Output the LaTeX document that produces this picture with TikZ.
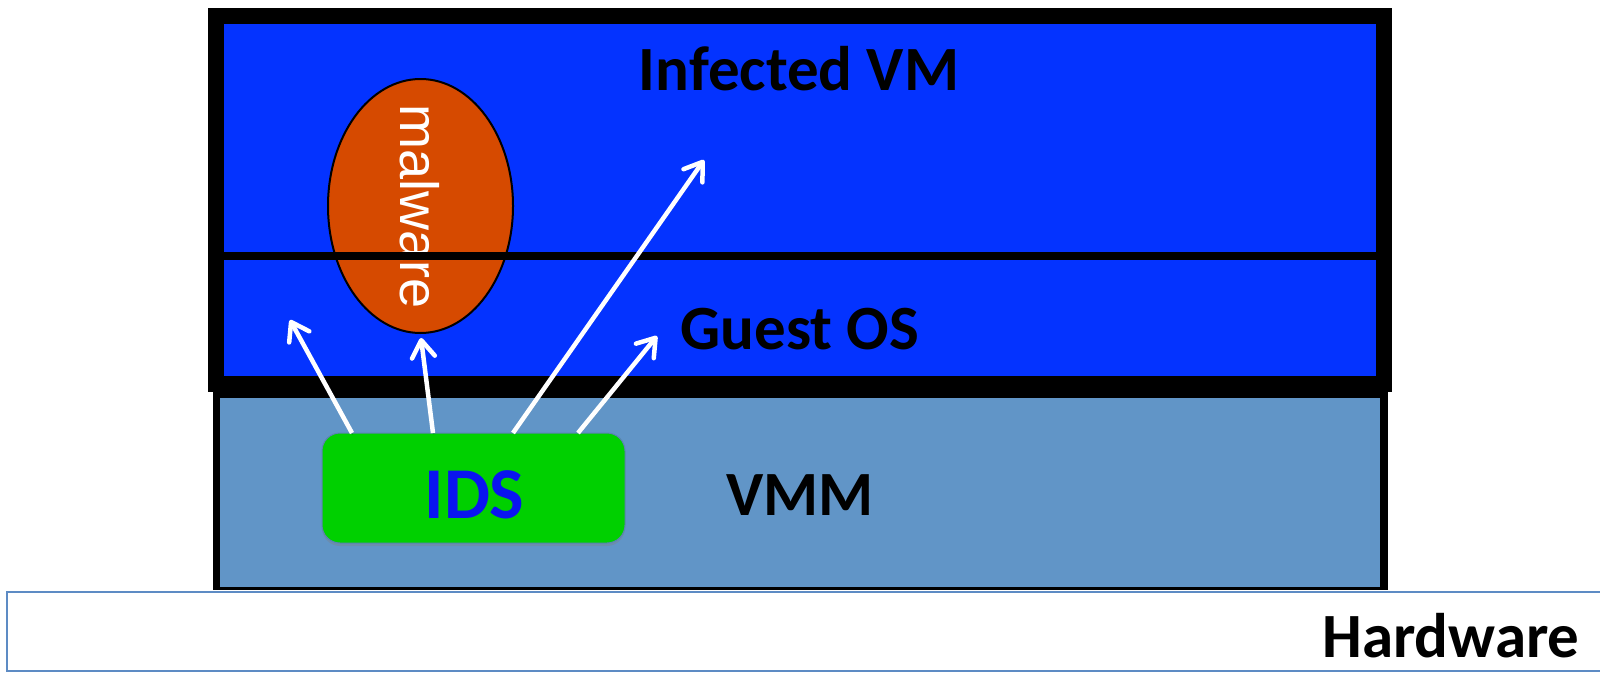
\documentclass[tikz,border=0pt]{standalone}
\usepackage{fontspec}
\setmainfont{Carlito}
\newfontfamily\malfont{Liberation Sans}
\usetikzlibrary{arrows.meta,shadows,shapes.geometric}
\definecolor{vmblue}{RGB}{4,51,255}
\definecolor{vmmfill}{RGB}{97,149,199}
\definecolor{malorange}{RGB}{214,74,0}
\definecolor{idsgreen}{RGB}{0,208,0}
\definecolor{idstext}{RGB}{10,20,240}
\definecolor{hwborder}{RGB}{93,139,196}
\definecolor{idsborder}{RGB}{90,130,180}
\tikzset{
  lbl/.style={font=\bfseries\fontsize{63}{63}\selectfont, text=black, inner sep=0pt, anchor=base},
  probe/.style={draw=white, line width=4.5pt, -{Straight Barb[length=17pt,width=23pt,round]},
    preaction={draw=black, draw opacity=0.18, transform canvas={shift={(1pt,-2pt)}}}},
  idsbox/.style={draw=idsborder, line width=1pt, fill=idsgreen, rounded corners=18pt,
    minimum width=303pt, minimum height=110pt, inner sep=0pt,
    drop shadow={opacity=0.35, shadow xshift=0pt, shadow yshift=-3pt}},
  malbox/.style={ellipse, draw=black, line width=2pt, fill=malorange,
    minimum width=185pt, minimum height=254pt, inner sep=0pt}
}
\begin{document}
\begin{tikzpicture}[x=1pt,y=-1pt]
\useasboundingbox (0,0) rectangle (1600,672);
% hardware
\draw[hwborder, line width=1.6pt, fill=white] (7,592) rectangle (1620,671);
\node[lbl] (hw) at (1451,657) {Hardware};
% VMM
\fill[black] (213,380) rectangle (1388,590);
\fill[vmmfill] (220,398) rectangle (1380,587);
\node[lbl] (vmm) at (800,515) {VMM};
% VM box
\fill[black] (208,8) rectangle (1392,392);
\fill[vmblue] (224,24) rectangle (1376,376);
\node[lbl] (vm) at (799,90) {Infected VM};
\node[lbl] (gos) at (800,349) {Guest OS};
% malware
\node[malbox] (mal) at (420.5,206) {};
\node[rotate=-90, anchor=base, inner sep=0pt, text=white, font=\malfont\fontsize{54}{54}\selectfont] (maltxt) at (400,206.5) {malware};
% divider
\fill[black] (224,252) rectangle (1376,260);
% IDS
\node[idsbox] (ids) at (473.5,488) {};
\node[lbl, text=idstext, font=\bfseries\fontsize{73}{73}\selectfont] (idstxt) at (474.5,518) {IDS};
% arrow endpoints
\coordinate (s1) at (352,433);
\coordinate (s2) at (433,433);
\coordinate (s3) at (513,433);
\coordinate (s4) at (578,433);
\coordinate (t1) at (290,320);
\coordinate (t3) at (704,160);
\coordinate (t4) at (657,336);
\draw[probe] (s1) -- (t1);
\draw[probe, shorten >=4pt] (s2) -- (mal.south);
\draw[probe] (s3) -- (t3);
\draw[probe] (s4) -- (t4);
\end{tikzpicture}
\end{document}
